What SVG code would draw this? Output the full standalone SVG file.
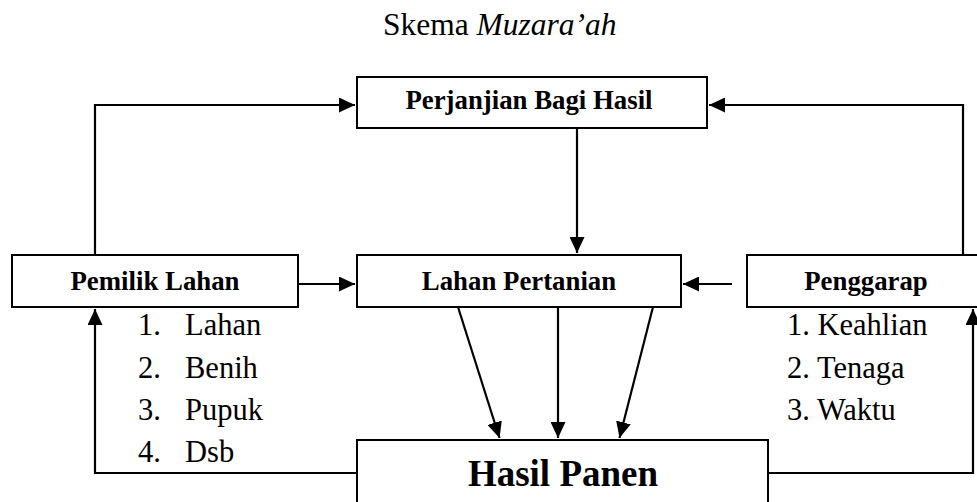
<svg xmlns="http://www.w3.org/2000/svg" width="977" height="502" viewBox="0 0 977 502">
<defs>
<style>
.box{fill:#fff;stroke:#000;stroke-width:2}
.lbl{font-family:"Liberation Serif","Times New Roman",serif;font-weight:bold;font-size:26.8px;text-anchor:middle;fill:#000}
.big{font-family:"Liberation Serif","Times New Roman",serif;font-weight:bold;font-size:37px;text-anchor:middle;fill:#000}
.txt{font-family:"Liberation Serif","Times New Roman",serif;font-size:30.5px;fill:#000}
.ttl{font-family:"Liberation Serif","Times New Roman",serif;font-size:31.5px;fill:#000}
.con{fill:none;stroke:#000;stroke-width:2.2}
</style>
<marker id="ah" markerUnits="userSpaceOnUse" markerWidth="17" markerHeight="15" refX="16" refY="7.5" orient="auto">
<path d="M0,0 L16,7.5 L0,15 z" fill="#000"/>
</marker>
</defs>
<rect width="977" height="502" fill="#fff"/>
<text class="ttl" x="383" y="35">Skema <tspan font-style="italic">Muzara’ah</tspan></text>

<g id="connectors">
<path class="con" d="M95,255 V105 H355" marker-end="url(#ah)"/>
<path class="con" d="M963,255 V105 H709" marker-end="url(#ah)"/>
<path class="con" d="M577,128 V253" marker-end="url(#ah)"/>
<path class="con" d="M298,284 H355" marker-end="url(#ah)"/>
<path class="con" d="M732,284 H683" marker-end="url(#ah)"/>
<path class="con" d="M458,307 L499.5,438" marker-end="url(#ah)"/>
<path class="con" d="M558,307 V438" marker-end="url(#ah)"/>
<path class="con" d="M653,307 L619.5,438" marker-end="url(#ah)"/>
<path class="con" d="M357,473 H95 V309" marker-end="url(#ah)"/>
<path class="con" d="M768,473 H973 V309" marker-end="url(#ah)"/>
</g>

<g id="perjanjian">
<rect class="box" x="357" y="77" width="350" height="51"/>
<text class="lbl" x="529" y="109">Perjanjian Bagi Hasil</text>
</g>
<g id="pemilik">
<rect class="box" x="12" y="255" width="286" height="52"/>
<text class="lbl" x="155" y="290">Pemilik Lahan</text>
<text class="txt" x="138" y="335">1.</text><text class="txt" x="185" y="335">Lahan</text>
<text class="txt" x="138" y="378">2.</text><text class="txt" x="185" y="378">Benih</text>
<text class="txt" x="138" y="420">3.</text><text class="txt" x="185" y="420">Pupuk</text>
<text class="txt" x="138" y="462">4.</text><text class="txt" x="185" y="462">Dsb</text>
</g>
<g id="lahan">
<rect class="box" x="357" y="255" width="324" height="52"/>
<text class="lbl" x="519" y="290">Lahan Pertanian</text>
</g>
<g id="penggarap">
<rect class="box" x="747" y="255" width="240" height="52"/>
<text class="lbl" x="866" y="290">Penggarap</text>
<text class="txt" x="787" y="335">1. Keahlian</text>
<text class="txt" x="787" y="378">2. Tenaga</text>
<text class="txt" x="787" y="420">3. Waktu</text>
</g>
<g id="hasil">
<rect class="box" x="357" y="440" width="411" height="72"/>
<text class="big" x="563" y="486">Hasil Panen</text>
</g>
</svg>
